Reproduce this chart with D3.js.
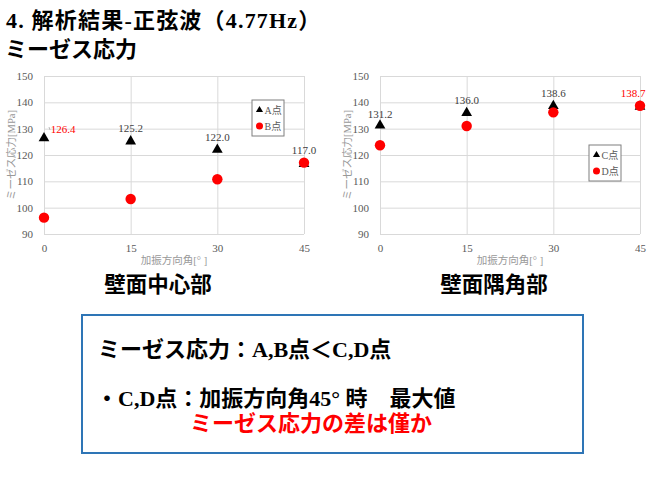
<!DOCTYPE html>
<html><head><meta charset="utf-8">
<script src="https://cdn.jsdelivr.net/npm/d3@7"></script>
<style>
html,body{margin:0;padding:0;background:#fff;}
svg{display:block;}
</style></head>
<body>
<svg id="c" width="650" height="487"></svg>
<script>
// ---- data ----
const angles = [0, 15, 30, 45];
const yTicks = [90, 100, 110, 120, 130, 140, 150];
const seriesA = [126.4, 125.2, 122.0, 116.6];
const seriesB = [96.2, 103.3, 110.8, 117.1];
const seriesC = [131.2, 136.0, 138.6, 138.4];
const seriesD = [123.7, 131.0, 136.2, 138.7];
const labelsLeft = ["126.4", "125.2", "122.0", "117.0"];
const labelsLeftRed = [true, false, false, false];
const labelsRight = ["131.2", "136.0", "138.6", "138.7"];
const labelsRightRed = [false, false, false, true];
const legendLeft = ["A点", "B点"];
const legendRight = ["C点", "D点"];
const yTitle = "ミーゼス応力[MPa]";
const xTitle = "加振方向角[° ]";

const svg = d3.select("#c");
const serif = "'Liberation Serif','DejaVu Serif',serif";
const mixed = "'Liberation Serif','Noto Sans CJK JP',serif";
const RED = "#ff0000";

// Title
svg.append("text").attr("x", 6).attr("y", 28).attr("font-family", mixed).attr("font-weight", 700)
  .attr("font-size", 22).attr("letter-spacing", 1.2).attr("fill", "#000").text("4. 解析結果-正弦波（4.77Hz）");
svg.append("text").attr("x", 5).attr("y", 57).attr("font-family", mixed).attr("font-weight", 700)
  .attr("font-size", 22).attr("fill", "#000").text("ミーゼス応力");

function chart(opt) {
  const x = d3.scaleLinear().domain([0, 45]).range([opt.x0, opt.x1]);
  const y = d3.scaleLinear().domain([90, 150]).range([234, 76]);
  const g = svg.append("g");
  // grid
  g.append("g").attr("transform", `translate(${opt.x0},0)`)
    .call(d3.axisLeft(y).tickValues(yTicks).tickSize(-(opt.x1 - opt.x0)).tickFormat(""))
    .call(s => { s.select(".domain").remove(); s.selectAll("line").attr("stroke", "#d9d9d9"); });
  g.append("g").attr("transform", `translate(0,234)`)
    .call(d3.axisBottom(x).tickValues(angles).tickSize(-(234 - 76)).tickFormat(""))
    .call(s => { s.select(".domain").remove(); s.selectAll("line").attr("stroke", "#d9d9d9"); });
  // tick labels
  g.append("g").attr("transform", `translate(${opt.x0 - 8},0)`)
    .call(d3.axisLeft(y).tickValues(yTicks).tickSize(0))
    .call(s => { s.select(".domain").remove(); s.selectAll("text").attr("font-family", serif).attr("font-size", 11).attr("fill", "#595959"); });
  g.append("g").attr("transform", `translate(0,241)`)
    .call(d3.axisBottom(x).tickValues(angles).tickSize(0))
    .call(s => { s.select(".domain").remove(); s.selectAll("text").attr("font-family", serif).attr("font-size", 11).attr("fill", "#595959"); });
  // axis titles
  g.append("text").attr("transform", `translate(${opt.x0 - 29},${(76 + 234) / 2}) rotate(-90)`)
    .attr("text-anchor", "middle").attr("font-family", mixed).attr("font-size", 10.5).attr("fill", "#999").text(yTitle);
  g.append("text").attr("x", (opt.x0 + opt.x1) / 2).attr("y", 264)
    .attr("text-anchor", "middle").attr("font-family", mixed).attr("font-size", 10.5).attr("fill", "#999").text(xTitle);
  // markers
  const tri = d3.symbol().type(d3.symbolTriangle).size(50);
  g.selectAll(".tri").data(opt.s1).join("path")
    .attr("transform", (d, i) => `translate(${x(angles[i])},${y(d)})`).attr("d", tri).attr("fill", "#000");
  g.selectAll(".circ").data(opt.s2).join("circle")
    .attr("cx", (d, i) => x(angles[i])).attr("cy", d => y(d)).attr("r", 5.2).attr("fill", RED);
  // data labels
  g.selectAll(".lbl").data(opt.labels).join("text")
    .attr("x", (d, i) => x(angles[i]) + opt.lblDx[i]).attr("y", (d, i) => y(opt.lblY[i]))
    .attr("text-anchor", "middle").attr("font-family", serif).attr("font-size", 11)
    .attr("fill", (d, i) => opt.red[i] ? RED : "#404040").text(d => d);
  // legend
  const lg = g.append("g").attr("transform", `translate(${opt.lx},${opt.ly})`);
  lg.append("rect").attr("width", 32).attr("height", 36).attr("fill", "#fff").attr("stroke", "#7f7f7f").attr("stroke-width", 1);
  lg.append("path").attr("d", d3.symbol().type(d3.symbolTriangle).size(22)()).attr("transform", "translate(7.5,10)").attr("fill", "#000");
  lg.append("circle").attr("cx", 7.5).attr("cy", 26).attr("r", 3.5).attr("fill", RED);
  lg.selectAll("text").data(opt.legend).join("text").attr("x", 12.5).attr("y", (d, i) => 14 + i * 16)
    .attr("font-family", mixed).attr("font-size", 10).attr("fill", "#595959").text(d => d);
  // subtitle
  svg.append("text").attr("x", (opt.x0 + opt.x1) / 2 - 16).attr("y", 292).attr("text-anchor", "middle")
    .attr("font-family", mixed).attr("font-weight", 700).attr("font-size", 21.5).attr("fill", "#000").text(opt.title);
}

chart({x0: 44, x1: 304, s1: seriesA, s2: seriesB, labels: labelsLeft, red: labelsLeftRed,
  lblY: [128.5, 128.7, 125.3, 120.2], lblDx: [19, 0, 0, 0],
  legend: legendLeft, lx: 252, ly: 100, title: "壁面中心部"});
chart({x0: 380, x1: 640, s1: seriesC, s2: seriesD, labels: labelsRight, red: labelsRightRed,
  lblY: [134.2, 139.4, 142.0, 142.0], lblDx: [0, 0, 0, -7],
  legend: legendRight, lx: 589, ly: 145, title: "壁面隅角部"});
// left red label leader tick
svg.append("line").attr("x1", 49).attr("y1", 127).attr("x2", 50).attr("y2", 130).attr("stroke", "#bbb");

// Summary box
svg.append("rect").attr("x", 82).attr("y", 315).attr("width", 501).attr("height", 138)
  .attr("fill", "#fff").attr("stroke", "#2e75b6").attr("stroke-width", 2);
const t = svg.append("g").attr("font-family", mixed).attr("font-weight", 700).attr("font-size", 22);
t.append("text").attr("x", 98).attr("y", 357).attr("fill", "#000").text("ミーゼス応力：A,B点＜C,D点");
t.append("text").attr("x", 96).attr("y", 406).attr("fill", "#000").text("・C,D点：加振方向角45°  時　最大値");
t.append("text").attr("x", 190).attr("y", 431).attr("fill", RED).text("ミーゼス応力の差は僅か");
</script>
</body></html>
